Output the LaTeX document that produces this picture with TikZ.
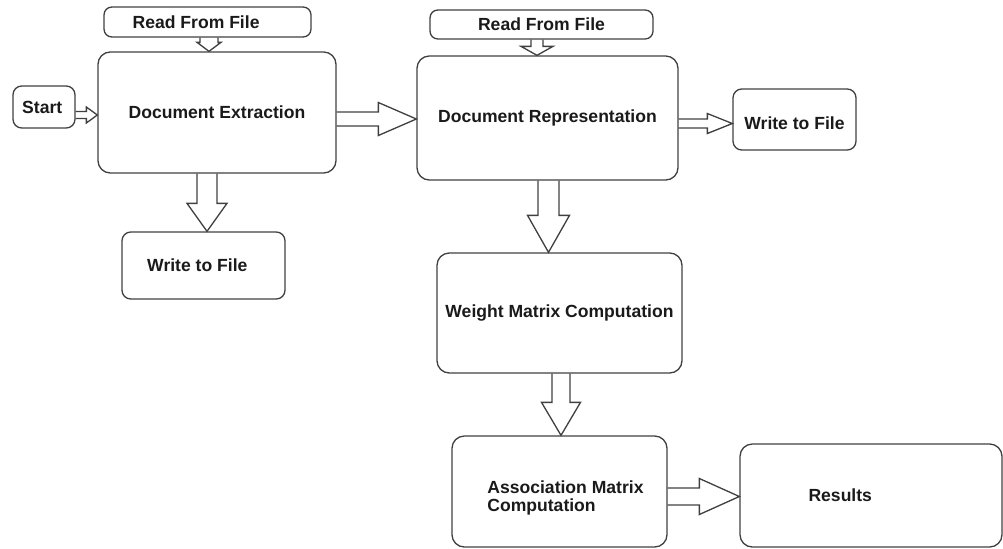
\documentclass[tikz,border=0pt]{standalone}
\usepackage{fontspec}
\setmainfont{Liberation Sans}
\usetikzlibrary{calc}

\definecolor{linecol}{HTML}{404040}
\definecolor{txtcol}{HTML}{1A1A1A}

% Block arrow pointing down: #1 x, #2 anchor at the tail, #3 anchor at the tip,
% #4 shaft half-width, #5 head half-width, #6 head length (all in grid units)
\newcommand{\vblockarrow}[6]{%
  \path (#1,0 |- #2) coordinate (va) (#1,0 |- #3) coordinate (vb);
  \draw[blk] ($(va)+(-#4,0)$) -- ($(vb)+(-#4,-#6)$) -- ($(vb)+(-#5,-#6)$) -- (vb)
    -- ($(vb)+(#5,-#6)$) -- ($(vb)+(#4,-#6)$) -- ($(va)+(#4,0)$);
}
% Block arrow pointing right: #1 y, then as above
\newcommand{\hblockarrow}[6]{%
  \path (0,#1 -| #2) coordinate (ha) (0,#1 -| #3) coordinate (hb);
  \draw[blk] ($(ha)+(0,-#4)$) -- ($(hb)+(-#6,-#4)$) -- ($(hb)+(-#6,-#5)$) -- (hb)
    -- ($(hb)+(-#6,#5)$) -- ($(hb)+(-#6,#4)$) -- ($(ha)+(0,#4)$);
}
% trailing / leading padding that survives inside a node
\newcommand{\padr}[1]{\hspace{#1}\mbox{}}
\newcommand{\padl}[1]{\mbox{}\hspace{#1}}
% one line of text whose capitals are centred on the node centre, then lowered by #1
\newcommand{\lowered}[2]{\raisebox{\dimexpr -3.6pt-#1\relax}[0pt][0pt]{#2}}

\tikzset{
  box/.style={draw=linecol, line width=0.75pt, rounded corners=7pt,
    font=\fontsize{10}{10.5}\selectfont\bfseries, text=txtcol, inner sep=0pt},
  smallbox/.style={box, rounded corners=5pt},
  filebox/.style={box, rounded corners=4.5pt},
  blk/.style={draw=linecol, line width=0.75pt, line join=miter},
}

\begin{document}
\begin{tikzpicture}[x=0.02cm, y=-0.02cm]
\useasboundingbox (0,0) rectangle (1003,548);

% input files
\node[filebox, minimum width={207*0.02cm}, minimum height={30*0.02cm}] (rff1) at (207.5,22) {Read From File\padr{13pt}};
\node[filebox, minimum width={223*0.02cm}, minimum height={29*0.02cm}] (rff2) at (541.5,24.5) {Read From File};

% processing steps
\node[smallbox, minimum width={62*0.02cm}, minimum height={42*0.02cm}] (start) at (44,107) {Start\padr{2pt}};
\node[box, minimum width={238*0.02cm}, minimum height={121*0.02cm}] (de) at (217,112.5) {Document Extraction};
\node[box, minimum width={261*0.02cm}, minimum height={124*0.02cm}] (dr) at (547.5,118) {Document Representation\padl{2pt}};
\node[smallbox, minimum width={123*0.02cm}, minimum height={61*0.02cm}] (wf2) at (794.5,119.5) {\lowered{2pt}{Write to File}};
\node[smallbox, minimum width={163*0.02cm}, minimum height={67*0.02cm}] (wf1) at (203.5,265.5) {Write to File\padr{7pt}};
\node[box, minimum width={245*0.02cm}, minimum height={120*0.02cm}] (wmc) at (559.5,313) {Weight Matrix Computation};
\node[box, minimum width={215*0.02cm}, minimum height={111*0.02cm}] (amc) at (559.5,491.5)
  {\padl{6.8pt}\raisebox{-6.8pt}[0pt][0pt]{\begin{tabular}{@{}l@{}}Association Matrix\\Computation\end{tabular}}};
\node[box, minimum width={262*0.02cm}, minimum height={103*0.02cm}] (res) at (871,495.5) {Results\padr{35pt}};

% connectors
\vblockarrow{209}{rff1.south}{de.north}{9}{12}{9}
\vblockarrow{537}{rff2.south}{dr.north}{6}{16}{9}
\hblockarrow{115}{start.east}{de.west}{3.5}{8}{11}
\hblockarrow{119}{de.east}{dr.west}{7}{16.5}{38}
\hblockarrow{123.5}{dr.east}{wf2.west}{4.5}{10}{25}
\vblockarrow{207}{de.south}{wf1.north}{10}{20}{28}
\vblockarrow{548.5}{dr.south}{wmc.north}{10.5}{21}{37}
\vblockarrow{561}{wmc.south}{amc.north}{9}{19.5}{33}
\hblockarrow{496.5}{amc.east}{res.west}{8.5}{18}{40}
\end{tikzpicture}
\end{document}
